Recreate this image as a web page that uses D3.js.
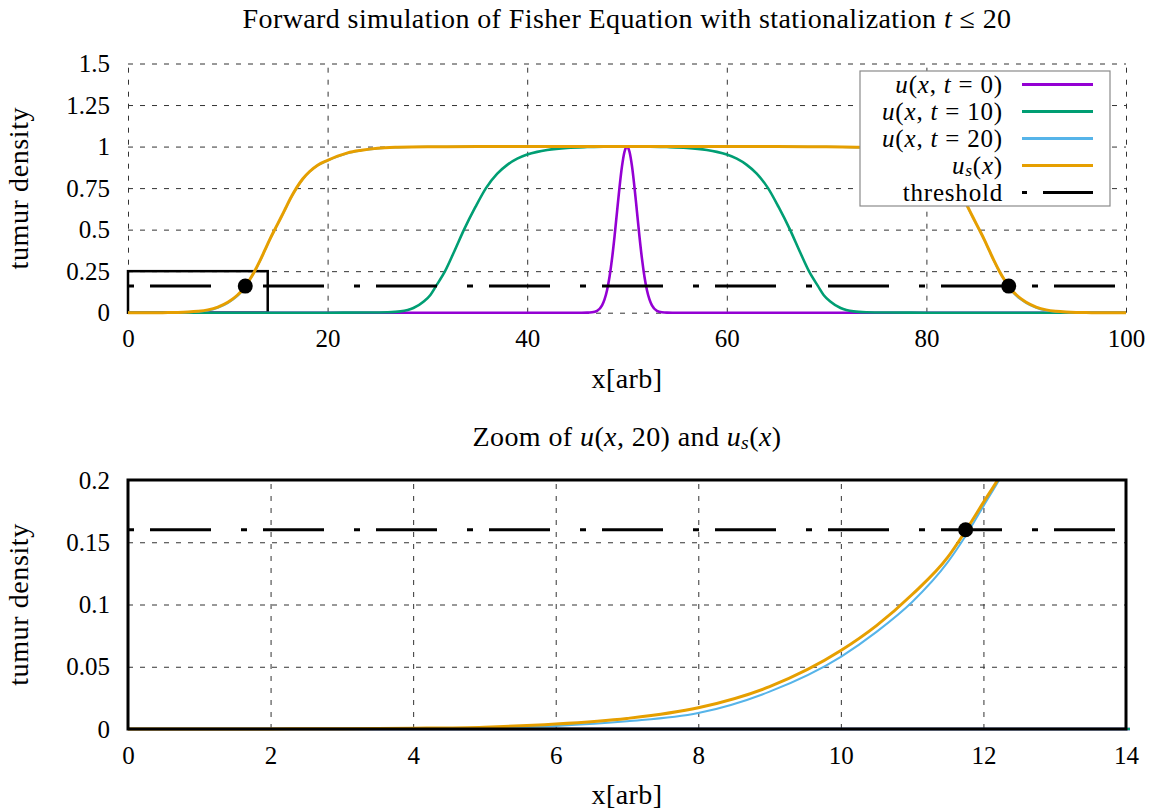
<!DOCTYPE html>
<html><head><meta charset="utf-8">
<script src="https://cdn.jsdelivr.net/npm/d3@7"></script>
<style>
body{margin:0;background:#fff}
svg{display:block}
svg text{font-family:"Liberation Serif",serif}
</style>
</head><body>
<svg id="c" width="1149" height="810" font-family="Liberation Serif, serif"></svg>
<script>
// ---------------- data ----------------
// u(x, t=0) : narrow peak at x = 50
const x_u0 = [0,45,46,46.5,47,47.5,47.75,48,48.25,48.5,48.75,49,49.25,49.5,49.75,50,50.25,50.5,50.75,51,51.25,51.5,51.75,52,52.25,52.5,53,53.5,54,55,100];
const u0   = [0,0,0.0003,0.0022,0.011,0.044,0.080,0.135,0.216,0.325,0.458,0.607,0.755,0.882,0.969,1,0.969,0.882,0.755,0.607,0.458,0.325,0.216,0.135,0.080,0.044,0.011,0.0022,0.0003,0,0];

// u(x, t=10)
const x_u10 = [0,20,24,26,27.3,28.6,29.6,30.3,30.86,31.77,32.7,33.67,34.8,35.87,37,38,39,40,41,42,44,46,48,50,
               52,54,56,58,59,60,61,62,63,64.13,65.2,66.33,67.3,68.23,69.14,69.7,70.4,71.4,72.7,74,76,80,100];
const u10   = [0,0,0.001,0.003,0.008,0.028,0.066,0.107,0.16,0.25,0.37,0.5,0.635,0.75,0.837,0.89,0.927,0.952,0.968,0.979,0.992,0.997,0.999,1,
               0.999,0.997,0.992,0.979,0.968,0.952,0.927,0.89,0.837,0.75,0.635,0.5,0.37,0.25,0.16,0.107,0.066,0.028,0.008,0.003,0.001,0,0];

// u(x, t=20)
const x_u20 = [0,2,3,4,5,6,7,8,9,10,10.5,11,11.5,11.76,12,12.2,12.69,13.2,13.7,14.2,14.7,15.3,15.8,16.3,16.87,17.5,18.2,19,20,21,22,23.4,25,27,30,35,40,45,50,
               55,60,65,70,73,75,76.6,78,79,80,81,81.8,82.5,83.13,83.7,84.2,84.7,85.3,85.8,86.3,86.8,87.31,87.8,88,88.24,88.5,89,89.5,90,91,92,93,94,95,96,97,98,100];
const u20   = [0,0.00005,0.0001,0.0003,0.0009,0.0025,0.0062,0.0128,0.030,0.058,0.078,0.102,0.134,0.156,0.179,0.198,0.248,0.308,0.373,0.438,0.498,0.568,0.628,0.688,0.748,0.803,0.848,0.886,0.915,0.94,0.96,0.977,0.989,0.995,0.999,1,1,1,1,
               1,1,1,0.999,0.995,0.989,0.977,0.96,0.94,0.915,0.886,0.848,0.803,0.748,0.688,0.628,0.568,0.498,0.438,0.373,0.308,0.248,0.198,0.179,0.156,0.134,0.102,0.078,0.058,0.030,0.0128,0.0062,0.0025,0.0009,0.0003,0.0001,0.00005,0];

// u_s(x) : stationary solution
const x_us = [0,2,3,4,5,6,7,8,9,10,10.5,11,11.5,11.76,12,12.2,12.69,13.2,13.7,14.2,14.7,15.3,15.8,16.3,16.87,17.5,18.2,19,20,21,22,23.4,25,27,30,35,40,45,50,
              55,60,65,70,73,75,76.6,78,79,80,81,81.8,82.5,83.13,83.7,84.2,84.7,85.3,85.8,86.3,86.8,87.31,87.8,88,88.24,88.5,89,89.5,90,91,92,93,94,95,96,97,98,100];
const us   = [0,0.0001,0.0002,0.0006,0.0015,0.004,0.0085,0.017,0.034,0.063,0.083,0.108,0.138,0.16,0.182,0.2,0.25,0.31,0.375,0.44,0.5,0.57,0.63,0.69,0.75,0.805,0.85,0.888,0.917,0.942,0.962,0.978,0.99,0.996,0.999,1,1,1,1,
              1,1,1,0.999,0.996,0.99,0.978,0.962,0.942,0.917,0.888,0.85,0.805,0.75,0.69,0.63,0.57,0.5,0.44,0.375,0.31,0.25,0.2,0.182,0.16,0.138,0.108,0.083,0.063,0.034,0.017,0.0085,0.004,0.0015,0.0006,0.0002,0.0001,0];

const threshold = 0.16;
const crossX = [11.75, 88.25];        // where u_s meets the threshold
const zoomBox = [0, 14, 0, 0.25];     // x0, x1, y0, y1

// ticks
const topXTicks = [0,20,40,60,80,100];
const topYTicks = [0,0.25,0.5,0.75,1,1.25,1.5];
const topYLabels = ["0","0.25","0.5","0.75","1","1.25","1.5"];
const botXTicks = [0,2,4,6,8,10,12,14];
const botYTicks = [0,0.05,0.1,0.15,0.2];
const botYLabels = ["0","0.05","0.1","0.15","0.2"];

const seriesNames = ["u0","u10","u20","us"];
const colors = {u0:"#9400d3", u10:"#009e73", u20:"#56b4e9", us:"#e69f00"};
const widths = {u0:2.6, u10:2.6, u20:2, us:3};

// ---------------- drawing ----------------
const FONT = "Liberation Serif, serif";
const svg = d3.select("#c");
const DASH_TH = "6,16,61,30";

function mathText(sel, parts) {
  parts.forEach(([t, s]) => {
    const ts = sel.append("tspan").text(t);
    if (s === "i") ts.attr("font-style", "italic");
    if (s === "s") ts.attr("font-style", "italic").attr("font-size", "0.7em").attr("dy", "0.15em");
    if (s === "b") ts.attr("dy", "-0.105em"); // back to baseline after subscript
  });
}

const seriesData = {
  u0: d3.zip(x_u0, u0),
  u10: d3.zip(x_u10, u10),
  u20: d3.zip(x_u20, u20),
  us: d3.zip(x_us, us)
};

function panel(o) {
  const g = svg.append("g");
  const x = d3.scaleLinear().domain(o.xd).range([128, 1126]);
  const y = d3.scaleLinear().domain(o.yd).range([o.y0, o.y1]);
  const h = o.y0 - o.y1, w = 1126 - 128;

  const ax = g.append("g").attr("transform", `translate(0,${o.y0})`)
    .call(d3.axisBottom(x).tickValues(o.xt).tickFormat(d3.format("d")).tickSize(-h).tickPadding(17));
  const ay = g.append("g").attr("transform", `translate(128,0)`)
    .call(d3.axisLeft(y).tickValues(o.yt).tickFormat((d,i)=>o.yl[i]).tickSize(-w).tickPadding(18));
  [ax, ay].forEach(a => {
    a.attr("font-family", FONT).attr("font-size", 25);
    a.select(".domain").remove();
    a.selectAll("line").attr("stroke", "#333").attr("stroke-width", 1).attr("stroke-dasharray", "5,7");
    a.selectAll("text").attr("font-family", FONT).attr("font-size", 25).attr("fill", "#000")
      .style("font-family", '"Liberation Serif", serif');
  });

  const clipId = "clip" + o.id;
  svg.append("clipPath").attr("id", clipId).append("rect")
    .attr("x", 124).attr("y", o.y1).attr("width", w + 8).attr("height", h + 4);
  const pg = g.append("g").attr("clip-path", `url(#${clipId})`);

  if (o.box) {
    pg.append("rect")
      .attr("x", x(zoomBox[0])).attr("y", y(zoomBox[3]))
      .attr("width", x(zoomBox[1]) - x(zoomBox[0])).attr("height", y(zoomBox[2]) - y(zoomBox[3]))
      .attr("fill", "none").attr("stroke", "#000").attr("stroke-width", 2.5);
  }

  const line = d3.line().x(d => x(d[0])).y(d => y(d[1])).curve(d3.curveMonotoneX);
  seriesNames.forEach(k => {
    pg.append("path").datum(seriesData[k]).attr("d", line)
      .attr("fill", "none").attr("stroke", colors[k]).attr("stroke-width", widths[k])
      .attr("stroke-linejoin", "round");
  });

  pg.append("path").datum([[o.xd[0], threshold], [o.xd[1], threshold]])
    .attr("d", d3.line().x(d => x(d[0])).y(d => y(d[1])))
    .attr("fill", "none").attr("stroke", "#000").attr("stroke-width", 3).attr("stroke-dasharray", DASH_TH);

  pg.selectAll("circle.m").data(crossX.filter(v => v <= o.xd[1])).join("circle")
    .attr("cx", d => x(d)).attr("cy", y(threshold)).attr("r", 7.5).attr("fill", "#000");

  if (o.border) {
    g.append("rect").attr("x", 128).attr("y", o.y1).attr("width", w).attr("height", h)
      .attr("fill", "none").attr("stroke", "#000").attr("stroke-width", 3);
  }

  g.append("text").attr("x", 627).attr("y", o.y0 + 75).attr("text-anchor", "middle")
    .attr("font-family", FONT).attr("font-size", 28).attr("letter-spacing", 0.4).text("x[arb]");
  g.append("text").attr("transform", `translate(28,${(o.y0 + o.y1) / 2}) rotate(-90)`)
    .attr("text-anchor", "middle").attr("font-family", FONT).attr("font-size", 28)
    .attr("letter-spacing", 0.6).text("tumur density");

  const t = g.append("text").attr("x", 627).attr("y", o.ty).attr("text-anchor", "middle")
    .attr("font-family", FONT).attr("font-size", 28).attr("letter-spacing", 0.4);
  mathText(t, o.title);
}

panel({id: "top", xd: [0, 100], yd: [0, 1.5], y0: 312.7, y1: 63.5, ty: 28,
  xt: topXTicks, yt: topYTicks, yl: topYLabels, box: true, border: false,
  title: [["Forward simulation of Fisher Equation with stationalization ", ""], ["t", "i"], [" \u2264 20", ""]]});

panel({id: "bot", xd: [0, 14], yd: [0, 0.2], y0: 729, y1: 480, ty: 446,
  xt: botXTicks, yt: botYTicks, yl: botYLabels, box: false, border: true,
  title: [["Zoom of ", ""], ["u", "i"], ["(", ""], ["x", "i"], [", 20) and ", ""], ["u", "i"], ["s", "s"], ["(", "b"], ["x", "i"], [")", ""]]});

// legend
const legendLabels = [
  [["u","i"],["(",""],["x","i"],[", ",""],["t","i"],[" = 0)",""]],
  [["u","i"],["(",""],["x","i"],[", ",""],["t","i"],[" = 10)",""]],
  [["u","i"],["(",""],["x","i"],[", ",""],["t","i"],[" = 20)",""]],
  [["u","i"],["s","s"],["(","b"],["x","i"],[")",""]],
  [["threshold",""]]
];
const lg = svg.append("g");
lg.append("rect").attr("x", 860).attr("y", 71).attr("width", 250).attr("height", 135)
  .attr("fill", "#fff").attr("stroke", "#8a8a8a").attr("stroke-width", 1.2);
const rowY = d3.scaleLinear().domain([0, 4]).range([84.5, 192.5]);
legendLabels.forEach((parts, i) => {
  const t = lg.append("text").attr("x", 1003).attr("y", rowY(i)).attr("dy", "0.33em")
    .attr("text-anchor", "end").attr("font-family", FONT).attr("font-size", 25).attr("letter-spacing", 0.8);
  mathText(t, parts);
  const k = seriesNames[i];
  const ln = lg.append("line").attr("x1", 1022).attr("x2", 1093).attr("y1", rowY(i)).attr("y2", rowY(i));
  if (k) ln.attr("stroke", colors[k]).attr("stroke-width", 3);
  else ln.attr("stroke", "#000").attr("stroke-width", 3).attr("stroke-dasharray", "5,16,61,30");
});
</script>
</body></html>
